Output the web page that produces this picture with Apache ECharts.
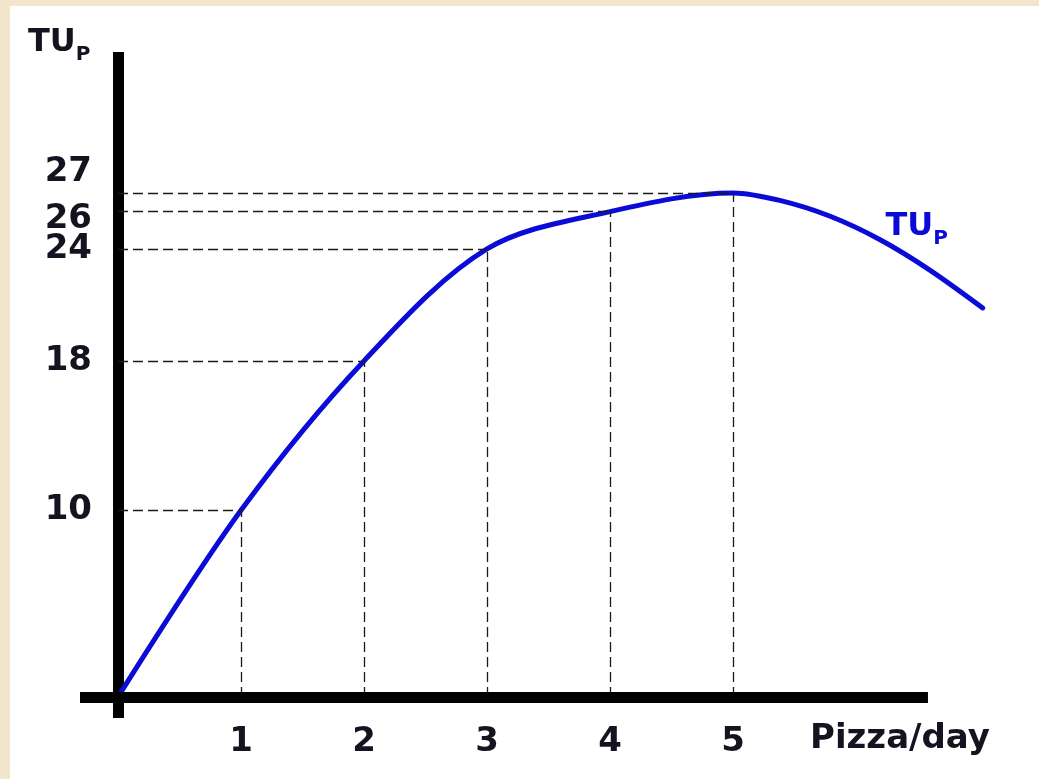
<!DOCTYPE html>
<html><head><meta charset="utf-8">
<script src="https://cdn.jsdelivr.net/npm/echarts@6/dist/echarts.min.js"></script>
<style>html,body{margin:0;padding:0;background:#f3e6cc;} #c{width:1039px;height:779px;}</style>
</head><body><div id="c"></div>
<script>
// ---- data ----
const xTickValues = [1, 2, 3, 4, 5];
const yTickValues = [10, 18, 24, 26, 27];
const curveX = [0, 1, 2, 3, 4, 5, 5.38, 5.79, 6.2, 6.6, 7.03];
const curveY = [0, 10, 18, 24, 26, 27, 26.6, 25.75, 24.48, 22.87, 20.84];
const guideX = [1, 2, 3, 4, 5];
const guideY = [10, 18, 24, 26, 27];
const yAxisTitle = 'TU';
const yAxisTitleSub = 'P';
const xAxisTitle = 'Pizza/day';
const curveName = 'TU';
const curveNameSub = 'P';

// ---- build ----
const FONT = 'DejaVu Sans';
const BLUE = '#0b0bd8';
const INK = '#141420';
const X_MIN = -0.309, X_AXIS_END = 6.585, X_MAX = 7.2;
const Y_MIN = -1.125, Y_MAX = 34.55;
const curveData = curveX.map((x, i) => [x, curveY[i]]);
const dashStyle = { type: [10, 5], width: 1.3, color: '#1a1a1a' };
const markLines = [];
guideX.forEach((x, i) => {
  const y = guideY[i];
  markLines.push([{ coord: [0, y], lineStyle: dashStyle }, { coord: [x, y] }]);
  markLines.push([{ coord: [x, 0], lineStyle: dashStyle }, { coord: [x, y] }]);
});
// horizontal axis bar (stops before the end of the curve)
markLines.push([
  { coord: [X_MIN, 0], lineStyle: { type: 'solid', width: 11, color: '#000', cap: 'butt' } },
  { coord: [X_AXIS_END, 0] }
]);

const chart = echarts.init(document.getElementById('c'), null, { renderer: 'canvas' });
chart.setOption({
  animation: false,
  backgroundColor: '#f3e6cc',
  graphic: [{
    type: 'rect', left: 10, top: 6, z: -10,
    shape: { width: 1029, height: 773 },
    style: { fill: '#ffffff' }
  }],
  title: [{
    text: yAxisTitle + '{s|' + yAxisTitleSub + '}',
    left: 28, top: 21, padding: 0,
    textStyle: {
      fontFamily: FONT, fontWeight: 'bold', fontSize: 32, color: INK, lineHeight: 44,
      rich: { s: { fontFamily: FONT, fontWeight: 'bold', fontSize: 20, color: INK, lineHeight: 20, verticalAlign: 'bottom' } }
    }
  }, {
    text: xAxisTitle,
    left: 810, top: 722, padding: 0,
    textStyle: { fontFamily: FONT, fontWeight: 'bold', fontSize: 34, color: INK, lineHeight: 34 }
  }],
  grid: { left: 80, top: 52, width: (X_MAX - X_MIN) * 123, height: 666, outerBoundsMode: 'none', containLabel: false },
  xAxis: {
    type: 'value', min: X_MIN, max: X_MAX,
    axisLine: { show: false },
    axisTick: { show: false },
    splitLine: { show: false },
    axisLabel: {
      customValues: xTickValues, margin: 7,
      fontFamily: FONT, fontWeight: 'bold', fontSize: 34, color: INK
    }
  },
  yAxis: {
    type: 'value', min: Y_MIN, max: Y_MAX,
    axisLine: { show: true, onZero: true, lineStyle: { color: '#000', width: 11, cap: 'butt' } },
    axisTick: { show: false },
    splitLine: { show: false },
    axisLabel: {
      customValues: yTickValues, margin: -12,
      fontFamily: FONT, fontWeight: 'bold', fontSize: 34, color: INK,
      formatter: function (v) {
        if (v === 27) return '{up|' + v + '}';
        if (v === 26) return '{dn|' + v + '}';
        return '{n|' + v + '}';
      },
      rich: {
        n: { fontFamily: FONT, fontWeight: 'bold', fontSize: 34, color: INK },
        up: { fontFamily: FONT, fontWeight: 'bold', fontSize: 34, color: INK, padding: [0, 0, 42, 0] },
        dn: { fontFamily: FONT, fontWeight: 'bold', fontSize: 34, color: INK, padding: [16, 0, 0, 0] }
      }
    }
  },
  series: [
    {
      type: 'line', z: 1, data: [], silent: true,
      markLine: {
        silent: true, symbol: ['none', 'none'], animation: false,
        label: { show: false },
        emphasis: { disabled: true },
        data: markLines
      }
    },
    {
      type: 'line', z: 3, data: curveData, smooth: 0.33, showSymbol: false, clip: false,
      lineStyle: { color: BLUE, width: 5, cap: 'round' },
      markPoint: {
        symbol: 'circle', symbolSize: 0, silent: true,
        label: {
          show: true, position: 'right', distance: 0,
          formatter: curveName + '{s|' + curveNameSub + '}',
          fontFamily: FONT, fontWeight: 'bold', fontSize: 32, color: BLUE, lineHeight: 44,
          rich: { s: { fontFamily: FONT, fontWeight: 'bold', fontSize: 20, color: BLUE, lineHeight: 20, verticalAlign: 'bottom' } }
        },
        data: [{ coord: [6.24, 25.2] }]
      }
    }
  ]
});
</script></body></html>
